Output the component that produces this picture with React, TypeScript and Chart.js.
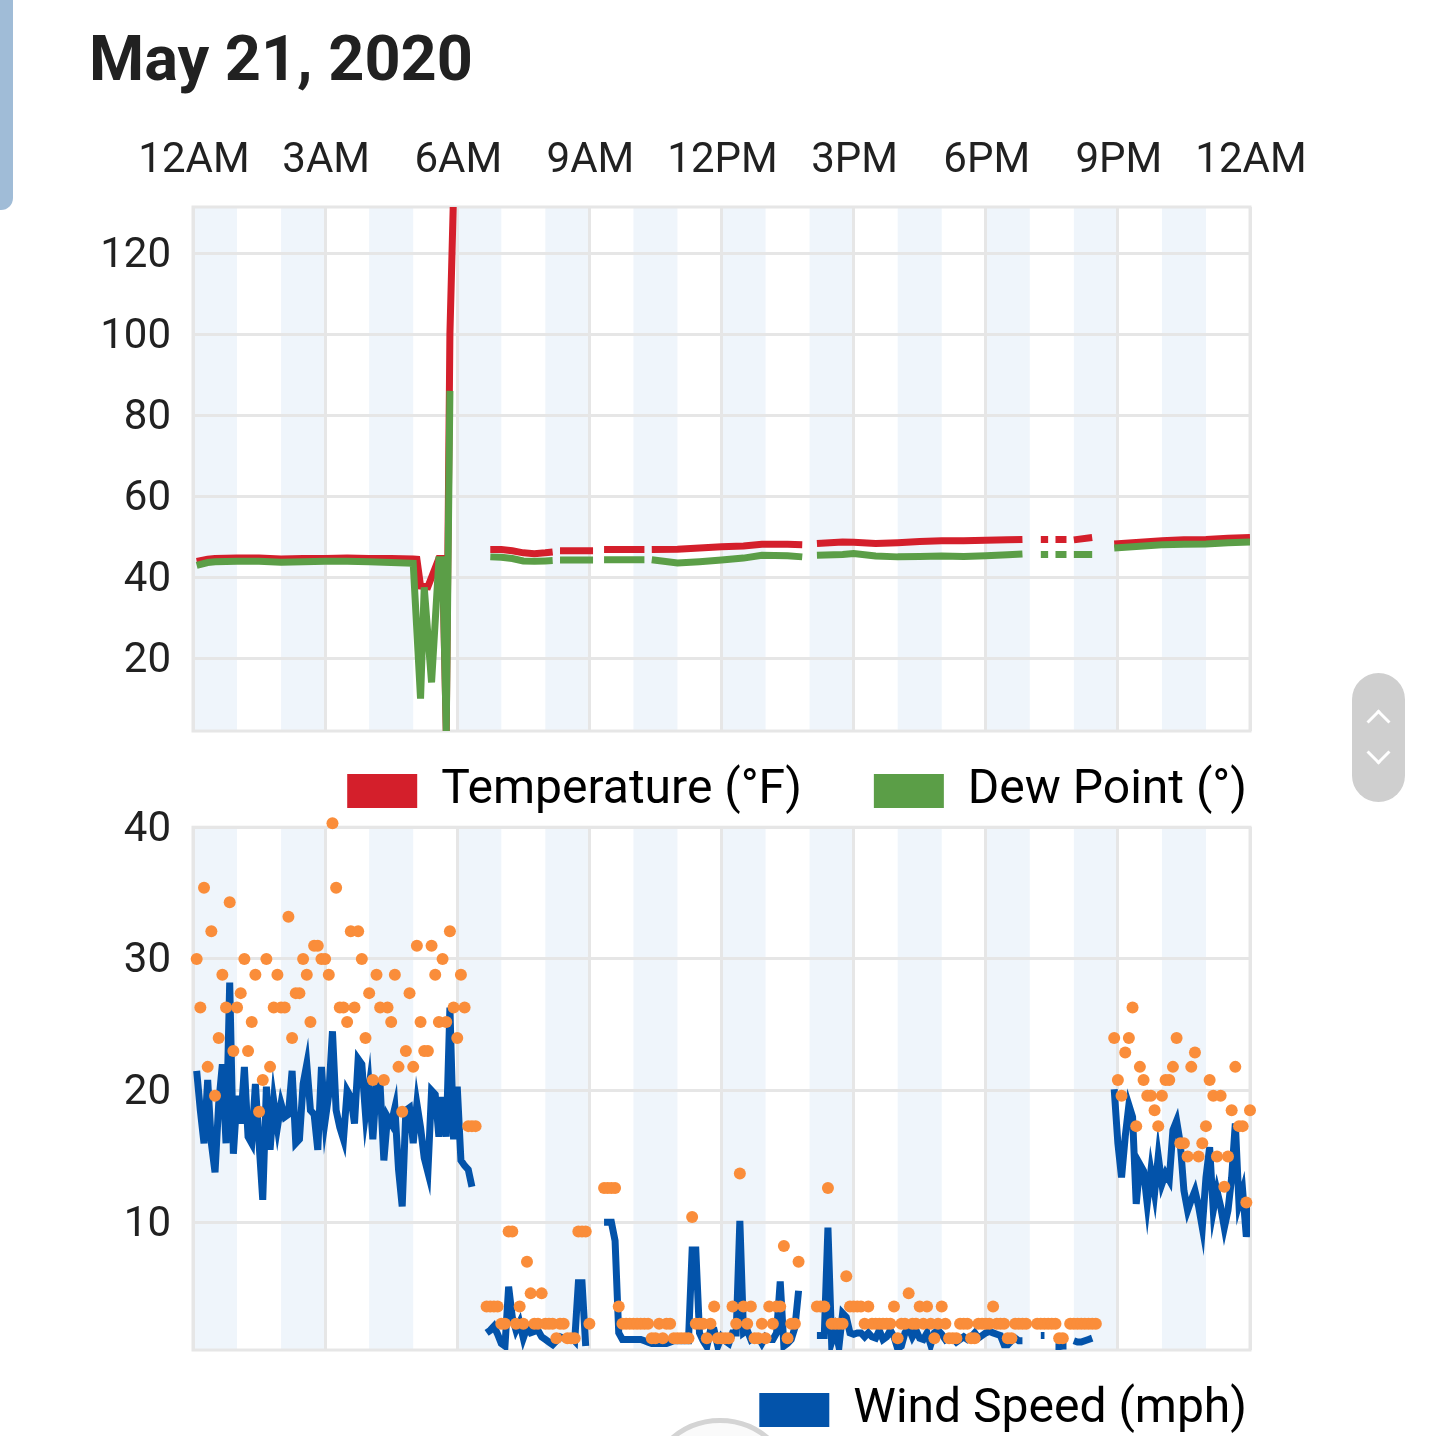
import React, { useEffect, useRef } from "react";
import { Chart, registerables } from "chart.js";

Chart.register(...registerables);

// ---------- axis / category data ----------
const timeTickHours = [0, 3, 6, 9, 12, 15, 18, 21, 24];
const timeTickLabels = ["12AM", "3AM", "6AM", "9AM", "12PM", "3PM", "6PM", "9PM", "12AM"];
const shadedHourStarts = [0, 2, 4, 6, 8, 10, 12, 14, 16, 18, 20, 22];
const tempAxisTicks = [20, 40, 60, 80, 100, 120];
const windAxisTicks = [10, 20, 30, 40];

// ---------- temperature (°F) ----------
const tempTimes = [
  "0:05", "0:20", "0:30", "1:00", "1:30", "2:00", "2:30", "3:00", "3:30", "4:00", "4:30", "5:00", "5:05",
  "5:10", "5:20", "5:35", "5:40", "5:45", "5:50", "5:55", "6:00",
  "6:45", "7:00", "7:15", "7:30", "7:45", "8:00", "8:10", "8:15",
  "8:20", "9:05", "9:10",
  "9:20", "10:15", "10:20",
  "10:25", "11:00", "11:30", "12:00", "12:30", "12:55", "13:30", "13:50", "13:55",
  "14:10", "14:45", "15:00", "15:30", "16:00", "16:30", "17:00", "17:30", "18:00", "18:30", "18:50", "18:55",
  "19:15", "19:25", "19:30",
  "19:35", "19:50", "19:55",
  "20:00", "20:25", "20:30",
  "20:55", "21:30", "22:00", "22:30", "23:00", "23:30", "24:00",
];
const tempValues = [
  43.9, 44.4, 44.6, 44.7, 44.7, 44.5, 44.6, 44.6, 44.7, 44.6, 44.6, 44.5, 44.4,
  37.8, 37.6, 44.6, 44.6, 2, 100, 135, null,
  46.8, 46.8, 46.5, 46.0, 45.8, 46.0, 46.2, null,
  46.5, 46.5, null,
  46.8, 46.8, null,
  46.8, 46.9, 47.2, 47.5, 47.7, 48.1, 48.1, 48.0, null,
  48.3, 48.7, 48.6, 48.3, 48.5, 48.8, 49.0, 49.0, 49.1, 49.2, 49.3, null,
  49.3, 49.3, null,
  49.3, 49.3, null,
  49.2, 49.8, null,
  48.2, 48.6, 49.0, 49.2, 49.3, 49.6, 49.8,
];

// ---------- dew point (°) ----------
const dewTimes = [
  "0:05", "0:20", "0:30", "1:00", "1:30", "2:00", "2:30", "3:00", "3:30", "4:00", "4:30", "5:00",
  "5:10", "5:15", "5:25", "5:35", "5:40", "5:45", "5:50", "5:55",
  "6:45", "7:00", "7:15", "7:30", "7:45", "8:00", "8:10", "8:15",
  "8:20", "9:05", "9:10",
  "9:20", "10:15", "10:20",
  "10:25", "11:00", "11:30", "12:00", "12:30", "12:55", "13:30", "13:50", "13:55",
  "14:10", "14:45", "15:00", "15:30", "16:00", "16:30", "17:00", "17:30", "18:00", "18:30", "18:50", "18:55",
  "19:15", "19:25", "19:30",
  "19:35", "19:50", "19:55",
  "20:00", "20:25", "20:30",
  "20:55", "21:30", "22:00", "22:30", "23:00", "23:30", "24:00",
];
const dewValues = [
  42.9, 43.6, 43.8, 43.9, 43.9, 43.7, 43.8, 43.9, 43.9, 43.8, 43.6, 43.4,
  10, 37.5, 14, 44.3, 44.3, 2, 86, null,
  45.0, 44.9, 44.6, 44.0, 43.9, 44.0, 44.1, null,
  44.2, 44.2, null,
  44.3, 44.3, null,
  44.3, 43.5, 43.8, 44.2, 44.7, 45.4, 45.3, 45.0, null,
  45.4, 45.6, 45.8, 45.2, 45.0, 45.1, 45.2, 45.1, 45.3, 45.5, 45.7, null,
  45.6, 45.6, null,
  45.6, 45.6, null,
  45.6, 45.6, null,
  47.2, 47.6, 48.0, 48.1, 48.2, 48.5, 48.7,
];

// ---------- wind (mph), 5-minute observations ----------
const WIND_SAMPLE_MINUTES = 5;

const windNightStart = "0:05";
const windNightSpeed = [
  21.5, 18.5, 16, 20.8, 16, 13.8, 19, 22, 16, 28.2,
  15.2, 19.6, 17.5, 21.8, 16.5, 16, 20.5, 16, 11.7, 20.3,
  15.5, 19.2, 17.2, 19, 18, 18.2, 21.5, 16, 16.3, 20.5,
  22, 18.5, 18.2, 15.5, 21.8, 17.7, 19.7, 24.5, 18.5, 17.2,
  16.3, 20, 19.5, 17.5, 22.4, 22, 18.2, 20.3, 16.3, 20.5,
  20.3, 14.7, 18, 17.5, 18.7, 14, 11.2, 18.5, 18.7, 16,
  19, 17.2, 14.9, 13.8, 20, 19.7, 16.5, 19.5, 16.5, 26.3,
  16.3, 20.3, 14.7, 14.3, 14, 12.7,
];
const windNightGust = [
  30, 26.3, 35.4, 21.8, 32.1, 19.6, 24, 28.8, 26.3, 34.3,
  23, 26.3, 27.4, 30, 23, 25.2, 28.8, 18.4, 20.8, 30,
  21.8, 26.3, 28.8, 26.3, 26.3, 33.2, 24, 27.4, 27.4, 30,
  28.8, 25.2, 31, 31, 30, 30, 28.8, 40.3, 35.4, 26.3,
  26.3, 25.2, 32.1, 26.3, 32.1, 30, 24, 27.4, 20.8, 28.8,
  26.3, 20.8, 26.3, 25.2, 28.8, 21.8, 18.4, 23, 27.4, 21.8,
  31, 25.2, 23, 23, 31, 28.8, 25.2, 30, 25.2, 32.1,
  26.3, 24, 28.8, 26.3, 17.3, 17.3, 17.3,
];

const windDayStart = "6:40";
const windDaySpeed = [
  1.6, 1.8, 2.1, 1.5, 0.8, 0.6, 5.1, 2.8, 1.8, 2.4,
  1.2, 2.0, 1.6, 1.7, 1.8, 1.3, 1.1, 0.9, 0.7, 1.0,
  1.3, 1.2, 1.3, 1.3, 1.0, 5.4, 5.4, 0.6, null, null,
  null, null, 10, 10, 10, 8.6, 1.6, 1.1, 1.1, 1.1,
  1.1, 1.1, 1.1, 1.0, 0.9, 0.8, 0.8, 0.8, 0.8, 0.8,
  0.9, 1.0, 1.0, 1.0, 1.0, 1.0, 7.9, 7.9, 1.6, 1.0,
  0.55, 1.8, 1.8, 0.6, 1.3, 1.0, 0.8, 1.6, 1.6, 10.1,
  1.6, 1.8, 1.1, 1.3, 1.3, 0.8, 1.3, 1.1, 1.1, 1.6,
  5.5, 0.6, 0.8, 1.1, 2.0, 4.8, null, null, null, null,
  1.4, 1.4, 1.4, 9.6, 0.9, 1.8, 0.55, 3.1, 2.8, 1.6,
  1.5, 1.6, 1.6, 1.3, 1.6, 1.3, 1.2, 1.8, 1.1, 1.3,
  1.8, 1.3, 0.4, 0.6, 1.6, 2.0, 1.3, 1.8, 1.2, 1.1,
  1.6, 0.7, 1.6, 1.8, 1.5, 1.1, 1.3, 1.2, 0.9, 1.1,
  1.3, 1.1, 1.3, 1.6, 1.2, 1.4, 1.6, 1.7, 1.6, 1.5,
  1.4, 0.7, 0.7, 1.0, 1.2, 1.0, 1.0, null, null, null,
  null, 1.4, 1.4, null, null, 0.55, 0.55, 0.6, 0.6, null,
  1.0, 0.9, 0.9, 1.0, 1.1, 1.2,
];
const windDayGust = [
  3.6, 3.6, 3.6, 3.6, 2.3, 2.3, 9.3, 9.3, 2.3, 3.6,
  2.3, 7.0, 4.6, 2.3, 2.3, 4.6, 2.3, 2.3, 2.3, 1.2,
  2.3, 2.3, 1.2, 1.2, 1.2, 9.3, 9.3, 9.3, 2.3, null,
  null, null, 12.6, 12.6, 12.6, 12.6, 3.6, 2.3, 2.3, 2.3,
  2.3, 2.3, 2.3, 2.3, 2.3, 1.2, 1.2, 2.3, 1.2, 2.3,
  2.3, 1.2, 1.2, 1.2, 1.2, 1.2, 10.4, 2.3, 2.3, 2.3,
  1.2, 2.3, 3.6, 1.2, 1.2, 1.2, 1.2, 3.6, 2.3, 13.7,
  3.6, 2.3, 3.6, 1.2, 1.2, 2.3, 1.2, 3.6, 2.3, 3.6,
  3.6, 8.2, 1.2, 2.3, 2.3, 7.0, null, null, null, null,
  3.6, 3.6, 3.6, 12.6, 2.3, 2.3, 2.3, 2.3, 5.9, 3.6,
  3.6, 3.6, 3.6, 2.3, 3.6, 2.3, 2.3, 2.3, 2.3, 2.3,
  2.3, 3.6, 1.2, 2.3, 2.3, 4.6, 2.3, 2.3, 3.6, 2.3,
  3.6, 2.3, 1.2, 2.3, 3.6, 2.3, 1.2, 1.2, 1.2, 2.3,
  2.3, 2.3, 1.2, 1.2, 2.3, 2.3, 2.3, 2.3, 3.6, 2.3,
  2.3, 2.3, 1.2, 1.2, 2.3, 2.3, 2.3, 2.3, null, null,
  2.3, 2.3, 2.3, 2.3, 2.3, 2.3, 1.2, 1.2, null, 2.3,
  2.3, 2.3, 2.3, 2.3, 2.3, 2.3, 2.3,
];

const windEveningStart = "20:55";
const windEveningSpeed = [
  20.1, 16, 13.4, 16.5, 18.9, 18, 11.4, 14.4, 13.9, 11.4,
  13.9, 12.2, 15, 12.9, 13.7, 13.2, 17, 17.7, 16, 12.4,
  10.9, 11.7, 12.4, 11.2, 9.6, 13.4, 15.7, 10.9, 12.4, 11.2,
  9.6, 10.9, 13.4, 17.5, 11.4, 12.4, 8.9, 11.4,
];
const windEveningGust = [
  24, 20.8, 19.6, 22.9, 24, 26.3, 17.3, 21.8, 20.8, 19.6,
  19.6, 18.5, 17.3, 19.6, 20.8, 20.8, 21.8, 24, 16, 16,
  15, 21.8, 22.9, 15, 16, 17.3, 20.8, 19.6, 15, 19.6,
  12.7, 15, 18.5, 21.8, 17.3, 17.3, 11.5, 18.5,
];

// ---------- styling ----------
const FONT = "Roboto, 'Noto Sans', sans-serif";
const TEXT = "#212121";
const GRID = "#e6e6e6";
const BAND = "#eff5fb";
const RED = "#d41f2b";
const GREEN = "#5b9e47";
const BLUE = "#0353aa";
const ORANGE = "#fa8d3a";
const LINE_WIDTH = 7;
const LEGEND_GAP = 72;
const LEGEND_LIFT = 36;

function hoursOf(t: string): number {
  const [h, m] = t.split(":").map(Number);
  return h + m / 60;
}
function pairPoints(times: string[], values: (number | null)[]) {
  return times.map((t, i) => ({ x: hoursOf(t), y: values[i] }));
}
function sampledPoints(start: string, values: (number | null)[], closeGap: boolean) {
  const s = hoursOf(start);
  const pts = values.map((v, i) => ({ x: s + (i * WIND_SAMPLE_MINUTES) / 60, y: v as number | null }));
  if (closeGap) pts.push({ x: s + (values.length * WIND_SAMPLE_MINUTES) / 60, y: null });
  return pts;
}

const hourBands = {
  id: "hourBands",
  beforeDraw(chart: any) {
    const { ctx, chartArea: a, scales } = chart;
    const x = scales.x;
    ctx.save();
    ctx.fillStyle = BAND;
    for (const h of shadedHourStarts) {
      const l = x.getPixelForValue(h);
      const r = x.getPixelForValue(h + 1);
      ctx.fillRect(l, a.top, r - l, a.bottom - a.top);
    }
    ctx.restore();
  },
};

const plotFrame = {
  id: "plotFrame",
  beforeDatasetsDraw(chart: any) {
    const { ctx, chartArea: a } = chart;
    ctx.save();
    ctx.strokeStyle = GRID;
    ctx.lineWidth = 3;
    ctx.strokeRect(a.left, a.top, a.right - a.left, a.bottom - a.top);
    ctx.restore();
  },
};

// the legend's item gap doubles as its top padding; lift it back under the plot
const legendLift = {
  id: "legendLift",
  afterLayout(chart: any) {
    const lg = chart.legend;
    if (lg) {
      lg.top -= LEGEND_LIFT;
      lg.bottom -= LEGEND_LIFT;
    }
  },
};

const legendLabels = {
  boxWidth: 70,
  boxHeight: 34,
  padding: LEGEND_GAP,
  color: TEXT,
  font: { family: FONT, size: 48 },
  generateLabels: (chart: any) =>
    chart.data.datasets
      .map((ds: any, i: number) => ({
        text: ds.label,
        fillStyle: ds.borderColor,
        strokeStyle: ds.borderColor,
        lineWidth: 0,
        hidden: false,
        datasetIndex: i,
        inLegend: ds.inLegend,
      }))
      .filter((it: any) => it.inLegend),
};

function xScale(showLabels: boolean, height: number) {
  return {
    type: "linear",
    position: "top",
    min: 0,
    max: 24,
    afterBuildTicks: (s: any) => {
      s.ticks = timeTickHours.map((v) => ({ value: v }));
    },
    afterFit: (s: any) => {
      s.height = height;
    },
    grid: { color: GRID, lineWidth: 3, drawTicks: false },
    border: { display: false },
    ticks: {
      display: showLabels,
      callback: (_v: any, i: number) => timeTickLabels[i],
      font: { family: FONT, size: 42 },
      color: TEXT,
      padding: 20,
      labelOffset: 1,
      maxRotation: 0,
      autoSkip: false,
    },
  };
}

function yScale(min: number, max: number, ticks: number[]) {
  return {
    type: "linear",
    position: "left",
    min,
    max,
    afterBuildTicks: (s: any) => {
      s.ticks = ticks.map((v) => ({ value: v }));
    },
    afterFit: (s: any) => {
      s.width = 193;
    },
    grid: { color: GRID, lineWidth: 3, drawTicks: false },
    border: { display: false },
    ticks: { font: { family: FONT, size: 42 }, color: TEXT, padding: 22, labelOffset: 3 },
  };
}

const spacerAxis = {
  type: "linear",
  position: "right",
  afterFit: (s: any) => {
    s.width = LEGEND_GAP - 3;
  },
  grid: { display: false },
  ticks: { display: false },
  border: { display: false },
};

const RIGHT_PAD = 1434 - 1250 - (LEGEND_GAP - 3);

function topConfig(): any {
  return {
    type: "line",
    data: {
      datasets: [
        {
          label: "Temperature (°F)",
          data: pairPoints(tempTimes, tempValues),
          borderColor: RED,
          backgroundColor: RED,
          borderWidth: LINE_WIDTH,
          pointRadius: 0,
          tension: 0,
          spanGaps: false,
          clip: 0,
          order: 1,
          inLegend: true,
        },
        {
          label: "Dew Point (°)",
          data: pairPoints(dewTimes, dewValues),
          borderColor: GREEN,
          backgroundColor: GREEN,
          borderWidth: LINE_WIDTH,
          pointRadius: 0,
          tension: 0,
          spanGaps: false,
          clip: 0,
          order: 0,
          inLegend: true,
        },
      ],
    },
    options: {
      animation: false,
      responsive: true,
      maintainAspectRatio: false,
      events: [],
      layout: { padding: { left: 0, right: RIGHT_PAD, top: 0, bottom: 0 } },
      scales: {
        x: xScale(true, 107),
        y: yScale(2, 131.4, tempAxisTicks),
        spacer: spacerAxis,
      },
      plugins: {
        legend: { position: "bottom", align: "end", labels: legendLabels },
        tooltip: { enabled: false },
      },
    },
    plugins: [hourBands, plotFrame, legendLift],
  };
}

function bottomConfig(): any {
  const speed = [
    ...sampledPoints(windNightStart, windNightSpeed, true),
    ...sampledPoints(windDayStart, windDaySpeed, true),
    ...sampledPoints(windEveningStart, windEveningSpeed, false),
  ];
  const gust = [
    ...sampledPoints(windNightStart, windNightGust, false),
    ...sampledPoints(windDayStart, windDayGust, false),
    ...sampledPoints(windEveningStart, windEveningGust, false),
  ];
  return {
    type: "line",
    data: {
      datasets: [
        {
          label: "Wind Speed (mph)",
          data: speed,
          borderColor: BLUE,
          backgroundColor: BLUE,
          borderWidth: LINE_WIDTH,
          pointRadius: 0,
          tension: 0,
          spanGaps: false,
          clip: 0,
          order: 1,
          inLegend: true,
        },
        {
          label: "Wind Gust (mph)",
          data: gust,
          showLine: false,
          borderColor: ORANGE,
          backgroundColor: ORANGE,
          pointBackgroundColor: ORANGE,
          pointBorderWidth: 0,
          pointRadius: 6,
          clip: false,
          order: 0,
          inLegend: false,
        },
      ],
    },
    options: {
      animation: false,
      responsive: true,
      maintainAspectRatio: false,
      events: [],
      layout: { padding: { left: 0, right: RIGHT_PAD, top: 45, bottom: 0 } },
      scales: {
        x: xScale(false, 0),
        y: yScale(0.3, 40, windAxisTicks),
        spacer: spacerAxis,
      },
      plugins: {
        legend: { position: "bottom", align: "end", labels: legendLabels },
        tooltip: { enabled: false },
      },
    },
    plugins: [hourBands, plotFrame, legendLift],
  };
}

export default function App() {
  const topRef = useRef<HTMLCanvasElement>(null);
  const bottomRef = useRef<HTMLCanvasElement>(null);

  useEffect(() => {
    const c1 = new Chart(topRef.current as HTMLCanvasElement, topConfig());
    const c2 = new Chart(bottomRef.current as HTMLCanvasElement, bottomConfig());
    return () => {
      c1.destroy();
      c2.destroy();
    };
  }, []);

  // legend block = gap + item height + gap + 10 (Chart.js fit)
  const legendBlock = LEGEND_GAP + 48 + 10;

  return (
    <div
      style={{
        position: "absolute",
        left: 0,
        top: 0,
        width: 1434,
        height: 1436,
        overflow: "hidden",
        background: "#ffffff",
        fontFamily: FONT,
      }}
    >
      <div
        style={{
          position: "absolute",
          left: 0,
          top: 0,
          width: 13,
          height: 210,
          background: "#a0bcd7",
          borderBottomRightRadius: 12,
        }}
      />
      <div
        style={{
          position: "absolute",
          left: 89,
          top: 27,
          fontSize: 63,
          lineHeight: "63px",
          fontWeight: 700,
          color: TEXT,
          whiteSpace: "nowrap",
        }}
      >
        May 21, 2020
      </div>
      <div style={{ position: "absolute", left: 0, top: 100, width: 1434, height: 631 + legendBlock }}>
        <canvas ref={topRef} />
      </div>
      <div style={{ position: "absolute", left: 0, top: 780, width: 1434, height: 570 + legendBlock }}>
        <canvas ref={bottomRef} />
      </div>
      <div
        style={{
          position: "absolute",
          left: 1352,
          top: 673,
          width: 53,
          height: 129,
          borderRadius: 27,
          background: "#cfcfcf",
        }}
      />
      <div
        style={{
          position: "absolute",
          left: 1370,
          top: 713,
          width: 14,
          height: 14,
          borderTop: "3px solid #ffffff",
          borderLeft: "3px solid #ffffff",
          transform: "rotate(45deg)",
        }}
      />
      <div
        style={{
          position: "absolute",
          left: 1370,
          top: 744,
          width: 14,
          height: 14,
          borderBottom: "3px solid #ffffff",
          borderRight: "3px solid #ffffff",
          transform: "rotate(45deg)",
        }}
      />
      <div
        style={{
          position: "absolute",
          left: 644,
          top: 1418,
          width: 142,
          height: 142,
          borderRadius: "50%",
          border: "5px solid #d4d4d4",
          background: "#fafafa",
        }}
      />
    </div>
  );
}
